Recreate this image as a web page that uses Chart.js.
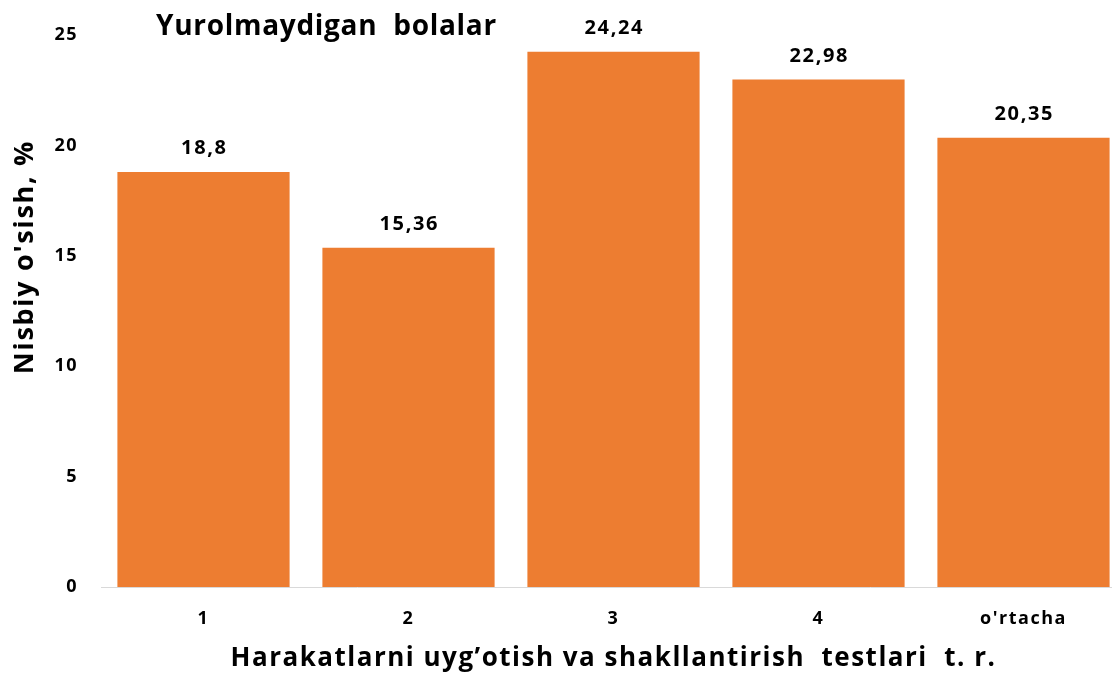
<!DOCTYPE html>
<html>
<head>
<meta charset="utf-8">
<script src="https://cdn.jsdelivr.net/npm/chart.js@4.4.0/dist/chart.umd.min.js"></script>
<style>
html,body{margin:0;padding:0;background:#fff;overflow:hidden;}
#wrap{position:relative;width:1126px;height:674px;}
</style>
</head>
<body>
<div id="wrap"><canvas id="c"></canvas></div>
<script>
const categories = ["1", "2", "3", "4", "o'rtacha"];
const values = [18.8, 15.36, 24.24, 22.98, 20.35];
const yTicks = [0, 5, 10, 15, 20, 25];
const chartTitle = "Yurolmaydigan  bolalar";
const yTitle = "Nisbiy o'sish, %";
const xTitle = "Harakatlarni uyg\u2019otish va shakllantirish  testlari  t. r.";

const FONT = "'Open Sans', Lato, sans-serif";

const spacingPlugin = {
  id: 'spacing',
  beforeDraw(chart) {
    chart.ctx.letterSpacing = '1.5px';
  }
};

const labelPlugin = {
  id: 'valueLabels',
  afterDatasetsDraw(chart) {
    const ctx = chart.ctx;
    const meta = chart.getDatasetMeta(0);
    ctx.save();
    ctx.letterSpacing = '1.6px';
    ctx.font = "bold 20px " + FONT;
    ctx.fillStyle = '#000';
    ctx.textAlign = 'center';
    ctx.textBaseline = 'alphabetic';
    meta.data.forEach((bar, i) => {
      const txt = String(values[i]).replace('.', ',');
      ctx.fillText(txt, bar.x + 0.8, bar.y - 17.5);
    });
    ctx.restore();
  }
};

const textPlugin = {
  id: 'extraText',
  afterDraw(chart) {
    const ctx = chart.ctx;
    ctx.save();
    ctx.letterSpacing = '0.7px';
    ctx.font = "bold 28px " + FONT;
    ctx.fillStyle = '#000';
    ctx.textAlign = 'left';
    ctx.textBaseline = 'alphabetic';
    ctx.fillText(chartTitle, 156, 35);
    ctx.restore();

    ctx.save();
    ctx.letterSpacing = '1.7px';
    ctx.font = "bold 27px " + FONT;
    ctx.fillStyle = '#000';
    ctx.textAlign = 'center';
    ctx.textBaseline = 'alphabetic';
    ctx.translate(33, 257);
    ctx.rotate(-Math.PI / 2);
    ctx.fillText(yTitle, 0, 0);
    ctx.restore();
  }
};

new Chart(document.getElementById('c'), {
  type: 'bar',
  data: {
    labels: categories,
    datasets: [{
      data: values,
      backgroundColor: '#ED7D31',
      borderWidth: 0,
      barPercentage: 0.84,
      categoryPercentage: 1.0
    }]
  },
  options: {
    responsive: true,
    maintainAspectRatio: false,
    animation: false,
    layout: { padding: { top: 35, right: 0, left: 0, bottom: 0 } },
    plugins: {
      legend: { display: false },
      tooltip: { enabled: false }
    },
    scales: {
      x: {
        grid: { display: false, drawTicks: false },
        border: { display: true, color: '#d9d9d9', width: 1 },
        ticks: {
          color: '#000',
          font: { family: FONT, size: 18, weight: 'bold' },
          padding: 21,
          maxRotation: 0
        },
        title: {
          display: true,
          text: xTitle,
          color: '#000',
          font: { family: FONT, size: 26, weight: 'bold' },
          padding: { top: 2, bottom: 0 }
        },
        afterFit(scale) { scale.height = 87; }
      },
      y: {
        min: 0,
        max: 25,
        afterBuildTicks(scale) { scale.ticks = yTicks.map(v => ({ value: v })); },
        grid: { display: false, drawTicks: false },
        border: { display: false },
        ticks: {
          color: '#000',
          font: { family: FONT, size: 18, weight: 'bold' },
          padding: 23
        },
        title: { display: false },
        afterFit(scale) { scale.width = 101; }
      }
    }
  },
  plugins: [spacingPlugin, labelPlugin, textPlugin]
});
</script>
</body>
</html>
